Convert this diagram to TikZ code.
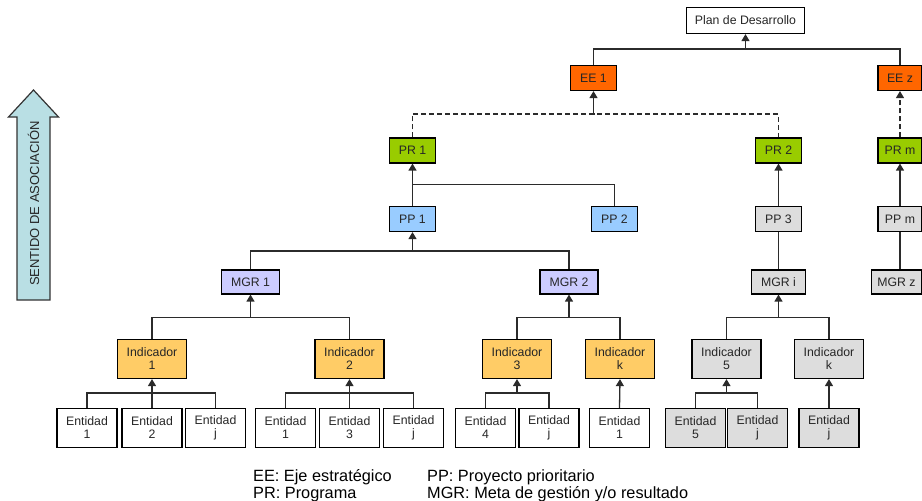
\documentclass[tikz,border=0pt]{standalone}
\usepackage{fontspec}
\setmainfont{Liberation Sans}
\usepackage{tikz}
\usetikzlibrary{arrows.meta, calc}
\definecolor{eeorange}{HTML}{FF6600}
\definecolor{prgreen}{HTML}{99CC00}
\definecolor{ppblue}{HTML}{99CCFF}
\definecolor{mgrlila}{HTML}{CCCCFF}
\definecolor{indgold}{HTML}{FFCC66}
\definecolor{boxgray}{HTML}{DDDDDD}
\definecolor{arrowcyan}{HTML}{B9DFE4}
\definecolor{linegray}{HTML}{2B2B2B}

\begin{document}
\begin{tikzpicture}[x=1pt, y=-1pt, >={Triangle[length=7pt, width=8pt]},
  box/.style={draw=black, line width=1.2pt, inner sep=0pt, align=center,
    text=black!85, font=\fontsize{12.3}{13}\selectfont},
  small/.style={box, minimum width=46pt, minimum height=25pt},
  mgr/.style={box, minimum width=58pt, minimum height=24pt},
  ind/.style={box, minimum width=69pt, minimum height=39pt},
  ent/.style={box, minimum width=60pt, minimum height=39pt},
  link/.style={draw=linegray, line width=1.3pt},
  arr/.style={link, ->},
  legend/.style={font=\fontsize{16.3}{17}\selectfont, inner sep=0pt, anchor=base west}]
  \useasboundingbox (0,0) rectangle (922,501);

  % Sentido de asociacion
  \draw[fill=arrowcyan, draw=black!80, line width=1.2pt]
    (17,300) -- (17,117) -- (8.5,117) -- (33.5,90) -- (58.5,117) -- (50,117) -- (50,300) -- cycle;
  \node[rotate=90, inner sep=0pt, text=black!85, font=\fontsize{13}{13}\selectfont] (sentido) at (33.5,203.5) {SENTIDO DE ASOCIACIÓN};

  % Plan y ejes
  \node[box, minimum width=118pt, minimum height=26pt, fill=white] (plan) at (745.5,20.5) {Plan de Desarrollo};
  \node[small, fill=eeorange] (ee1) at (593.5,78) {EE 1};
  \node[small, fill=eeorange, minimum width=44pt] (eez) at (900,78) {EE z};

  % Programas
  \node[small, fill=prgreen] (pr1) at (412.5,150.5) {PR 1};
  \node[small, fill=prgreen] (pr2) at (778.5,150.5) {PR 2};
  \node[small, fill=prgreen, minimum width=44pt] (prm) at (900,150.5) {PR m};

  % Proyectos
  \node[small, fill=ppblue] (pp1) at (412.5,219) {PP 1};
  \node[small, fill=ppblue] (pp2) at (614.5,219) {PP 2};
  \node[small, fill=boxgray] (pp3) at (778.5,219) {PP 3};
  \node[small, fill=boxgray, minimum width=44pt] (ppm) at (900,219) {PP m};

  % Metas
  \node[mgr, fill=mgrlila] (mgr1) at (250.5,282) {MGR 1};
  \node[mgr, fill=mgrlila] (mgr2) at (569,282) {MGR 2};
  \node[mgr, fill=boxgray, minimum width=54pt] (mgri) at (778.5,282) {MGR i};
  \node[mgr, fill=boxgray, minimum width=50pt] (mgrz) at (896.5,282) {MGR z};

  % Indicadores
  \foreach \n/\x/\t/\c in {ind1/152/1/indgold, ind2/349.5/2/indgold, ind3/517/3/indgold,
      ind4/620/k/indgold, ind5/726.5/5/boxgray, ind6/829/k/boxgray}
    \node[ind, fill=\c] (\n) at (\x,359) {Indicador\\\t};

  % Entidades
  \foreach \n/\x/\t/\c in {e11/87/1/white, e12/152/2/white, e1j/215.5/j/white,
      e21/285.5/1/white, e23/349.5/3/white, e2j/413.5/j/white,
      e34/485.5/4/white, e3j/549/j/white, e41/619.5/1/white,
      e55/695.5/5/boxgray, e5j/757.5/j/boxgray, e6j/829/j/boxgray}
    \node[ent, fill=\c] (\n) at (\x,428) {Entidad\\\t};

  % Conectores superiores
  \coordinate (jplan) at ([yshift=-15pt]plan.south);
  \draw[link] (ee1.north) |- (jplan) -| (eez.north);
  \draw[arr] (jplan) -- (plan.south);

  \coordinate (jee) at ([yshift=-23pt]ee1.south);
  \draw[link, dash pattern=on 5pt off 3pt] (pr1.north) |- (jee) -| (pr2.north);
  \draw[arr] (jee) -- (ee1.south);
  \draw[arr, dash pattern=on 5pt off 3pt] (prm.north) -- (eez.south);

  % PR -> PP
  \coordinate (jpr1) at ([yshift=-21pt]pr1.south);
  \draw[arr] (pp1.north) -- (pr1.south);
  \draw[link] (jpr1) -| (pp2.north);
  \draw[arr] (pp3.north) -- (pr2.south);
  \draw[arr] (ppm.north) -- (prm.south);

  % PP -> MGR
  \coordinate (jpp1) at ([yshift=-19pt]pp1.south);
  \draw[link] (mgr1.north) |- (jpp1) -| (mgr2.north);
  \draw[arr] (jpp1) -- (pp1.south);
  \draw[link] (mgri.north) -- (pp3.south);
  \draw[link] (ppm.south) -- (ppm.south |- mgrz.north);

  % MGR -> Indicador
  \foreach \m/\a/\b in {mgr1/ind1/ind2, mgr2/ind3/ind4, mgri/ind5/ind6} {
    \coordinate (j\m) at ([yshift=-23pt]\m.south);
    \draw[link] (\a.north) |- (j\m) -| (\b.north);
    \draw[arr] (j\m) -- (\m.south);
  }

  % Indicador -> Entidad
  \foreach \i/\a/\b in {ind1/e11/e1j, ind2/e21/e2j, ind3/e34/e3j, ind5/e55/e5j} {
    \coordinate (j\i) at ([yshift=-14pt]\i.south);
    \draw[link] (\a.north) |- (j\i) -| (\b.north);
    \draw[arr] (j\i) -- (\i.south);
  }
  \draw[link] (e12.north) -- (jind1);
  \draw[link] (e23.north) -- (jind2);
  \draw[arr] (e41.north) -- (ind4.south);
  \draw[arr] (e6j.north) -- (ind6.south);

  % Leyenda
  \node[legend] (legee) at (253,481) {EE: Eje estratégico};
  \node[legend] (legpr) at (253,498) {PR: Programa};
  \node[legend] (legpp) at (427,481) {PP: Proyecto prioritario};
  \node[legend] (legmgr) at (427,498) {MGR: Meta de gestión y/o resultado};
\end{tikzpicture}
\end{document}
